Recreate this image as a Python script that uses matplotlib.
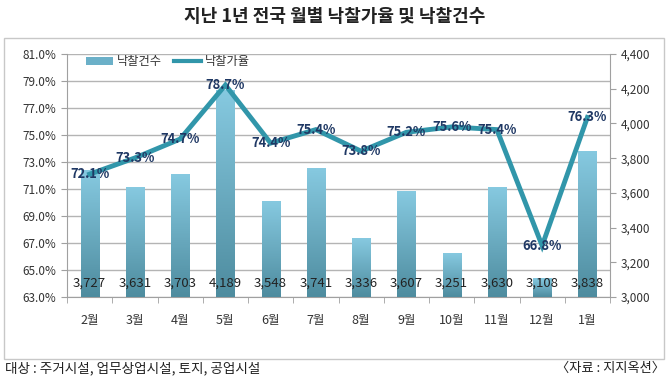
import numpy as np
import matplotlib.pyplot as plt
from matplotlib.colors import LinearSegmentedColormap
from matplotlib.patches import Patch, Rectangle
from matplotlib.lines import Line2D
from matplotlib.ticker import FuncFormatter, FixedLocator

plt.rcParams['font.family'] = ['Noto Sans CJK KR', 'DejaVu Sans']

# data
months = ["2월", "3월", "4월", "5월", "6월", "7월", "8월", "9월", "10월", "11월", "12월", "1월"]
rate = [72.1, 73.3, 74.7, 78.7, 74.4, 75.4, 73.8, 75.2, 75.6, 75.4, 66.8, 76.3]
count = [3727, 3631, 3703, 4189, 3548, 3741, 3336, 3607, 3251, 3630, 3108, 3838]

line_col = "#3196aa"
lab_col = "#1f3864"
txt_col = "#333333"
grad = LinearSegmentedColormap.from_list("g", ["#4e8c9f", "#86c9e0"])

fig = plt.figure(figsize=(6.7, 3.8), dpi=100)
x = np.arange(len(months))

# base axes: % scale, grid, left ticks
ax = fig.add_axes([67/670, 1-297/380, (610-67)/670, (297-54)/380])
ax.set_ylim(63, 81)
ax.set_xlim(-0.5, len(months)-0.5)
ax.set_yticks(np.arange(63, 81.1, 2))
ax.yaxis.set_major_formatter(FuncFormatter(lambda v, p: f"{v:.1f}%"))
ax.grid(axis="y", color="#b4b4b4", lw=1)
ax.set_axisbelow(True)
ax.set_xticks(x)
ax.set_xticklabels(months)
ax.xaxis.set_minor_locator(FixedLocator(np.arange(-0.5, len(months), 1)))
ax.tick_params(axis="x", which="major", length=0, pad=12, labelsize=9, labelcolor=txt_col)
ax.tick_params(axis="x", which="minor", length=4, color="#a0a0a0")
ax.tick_params(axis="y", length=4, color="#a0a0a0", labelsize=8.5, labelcolor=txt_col)
for s in ["top", "right"]:
    ax.spines[s].set_visible(False)
for s in ["left", "bottom"]:
    ax.spines[s].set_color("#a0a0a0")

# bars: count scale, right ticks
axb = ax.twinx()
axb.set_xlim(-0.5, len(months)-0.5)
axb.set_ylim(3000, 4400)
bars = axb.bar(x, count, width=0.4, color="none", zorder=2)
gimg = np.linspace(0, 1, 100).reshape(-1, 1)
ymin = axb.get_ylim()[0]
for b in bars:
    bb = b.get_bbox()
    axb.imshow(gimg, cmap=grad, origin="lower", aspect="auto",
               extent=[bb.x0, bb.x1, max(bb.y0, ymin), bb.y1], zorder=2)
axb.set_xlim(-0.5, len(months)-0.5)
axb.set_ylim(3000, 4400)
axb.set_yticks(np.arange(3000, 4401, 200))
axb.yaxis.set_major_formatter(FuncFormatter(lambda v, p: f"{int(v):,}"))
axb.tick_params(axis="y", length=4, color="#a0a0a0", labelsize=8.5, labelcolor=txt_col)
for s in ["top", "left", "bottom"]:
    axb.spines[s].set_visible(False)
axb.spines["right"].set_color("#a0a0a0")
for xi, c in zip(x, count):
    axb.text(xi, 3080, f"{c:,}", ha="center", va="center", fontsize=9.5, color="#222222", zorder=3)

# line: % scale, no ticks
axl = ax.twinx()
axl.set_ylim(63, 81)
axl.set_xlim(-0.5, len(months)-0.5)
axl.axis("off")
axl.plot(x, rate, color=line_col, lw=3.5, solid_joinstyle="miter")
for xi, r in zip(x, rate):
    axl.text(xi, r, f"{r:.1f}%", ha="center", va="center", fontsize=9.3,
             fontweight="bold", color=lab_col)

handles = [Patch(facecolor="#6bb0c8"), Line2D([0], [0], color=line_col, lw=3)]
axl.legend(handles, ["낙찰건수", "낙찰가율"], loc="upper left", ncol=2, frameon=False,
           fontsize=8.8, bbox_to_anchor=(0.015, 1.04), handlelength=2.2,
           columnspacing=1.0, handletextpad=0.3, labelcolor=txt_col)

# frame, title, footer
fig.patches.append(Rectangle((4/670, 1-359/380), 660/670, 321/380, transform=fig.transFigure,
                             fill=False, edgecolor="#c8c8c8", lw=1))
fig.text(0.5, 1-16/380, "지난 1년 전국 월별 낙찰가율 및 낙찰건수", ha="center", va="center",
         fontsize=13, fontweight="bold", color="#222222")
fig.text(5/670, 1-368/380, "대상 : 주거시설, 업무상업시설, 토지, 공업시설", ha="left", va="center",
         fontsize=9.8, color="#222222")
fig.text(665/670, 1-368/380, "〈자료 : 지지옥션〉", ha="right", va="center",
         fontsize=9.5, color="#222222")

fig.savefig("out.png", dpi=100)
